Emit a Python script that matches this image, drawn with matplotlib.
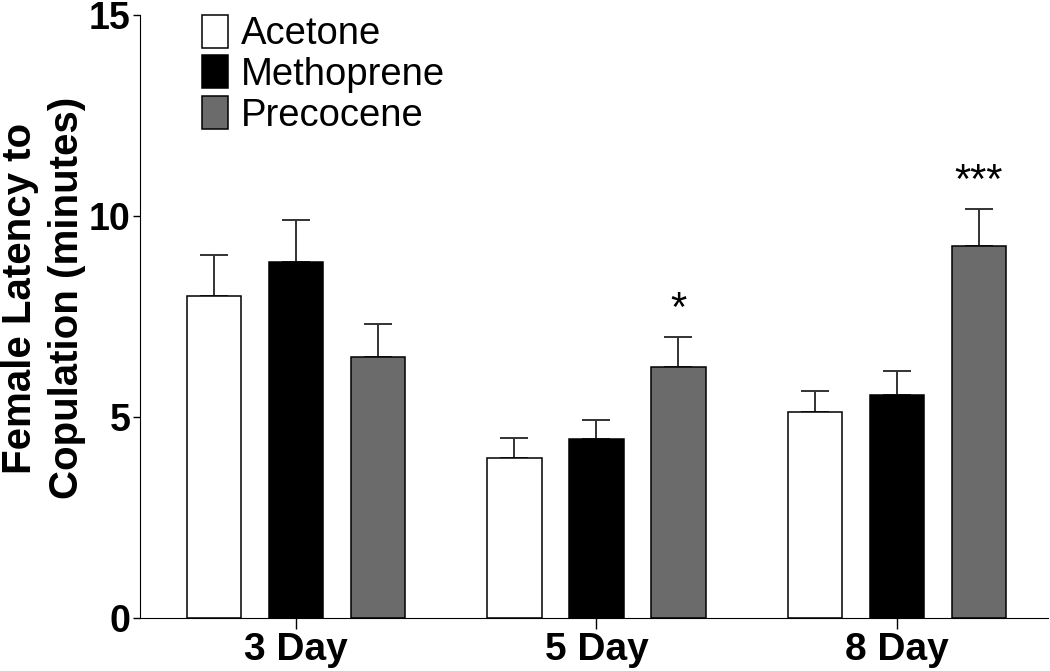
import matplotlib
matplotlib.use('Agg')
import matplotlib.pyplot as plt
from matplotlib.patches import Patch
import numpy as np

plt.rcParams['font.family'] = ['Liberation Sans', 'DejaVu Sans']

days = ['3 Day', '5 Day', '8 Day']
treatments = ['Acetone', 'Methoprene', 'Precocene']
colors = ['white', 'black', '#6b6b6b']
means = {
    'Acetone':    [8.01, 3.98, 5.12],
    'Methoprene': [8.85, 4.45, 5.55],
    'Precocene':  [6.48, 6.24, 9.26],
}
sems = {
    'Acetone':    [1.01, 0.50, 0.52],
    'Methoprene': [1.04, 0.48, 0.59],
    'Precocene':  [0.83, 0.75, 0.90],
}
stars = {(1, 2): '*', (2, 2): '***'}

fig = plt.figure(figsize=(10.5, 6.71), dpi=100)
ax = fig.add_axes([0.1333, 0.079, 0.8647, 0.899])

x = np.arange(len(days))
width = 0.18
offset = 0.273
for i, t in enumerate(treatments):
    pos = x + (i - 1) * offset
    ax.bar(pos, means[t], width, color=colors[i], edgecolor='black', linewidth=1.1, zorder=2)
    ax.errorbar(pos, means[t], yerr=[np.zeros(3), sems[t]], fmt='none', ecolor='#333333',
                elinewidth=1.4, capsize=10, capthick=1.4, zorder=1)

for (g, i), s in stars.items():
    t = treatments[i]
    top = means[t][g] + sems[t][g]
    ax.text(x[g] + (i - 1) * offset, top + 0.18, s, ha='center', va='bottom', fontsize=30)

ax.set_xlim(-0.52, 2.503)
ax.set_ylim(0, 15)
ax.set_yticks([0, 5, 10, 15])
ax.set_xticks(x)
ax.set_xticklabels(days, fontsize=28, fontweight='bold')
for lab in ax.get_yticklabels():
    lab.set_fontsize(27)
    lab.set_fontweight('bold')
ax.tick_params(axis='y', length=5, width=1, pad=2)
ax.tick_params(axis='x', length=8, width=1, pad=2)
ax.spines['top'].set_visible(False)
ax.spines['right'].set_visible(False)
ax.set_ylabel('Female Latency to\nCopulation (minutes)', fontsize=29, fontweight='bold',
              linespacing=1.3, va='center')
ax.yaxis.set_label_coords(-0.106, 0.53)

handles = [Patch(facecolor=c, edgecolor='black', linewidth=1.1) for c in colors]
ax.legend(handles, treatments, loc='upper left', bbox_to_anchor=(0.068, 1.0), frameon=False,
          fontsize=27.5, handlelength=0.68, handleheight=0.95, handletextpad=0.35,
          labelspacing=0.08, borderpad=0, borderaxespad=0)

fig.savefig('out.png', dpi=100)
